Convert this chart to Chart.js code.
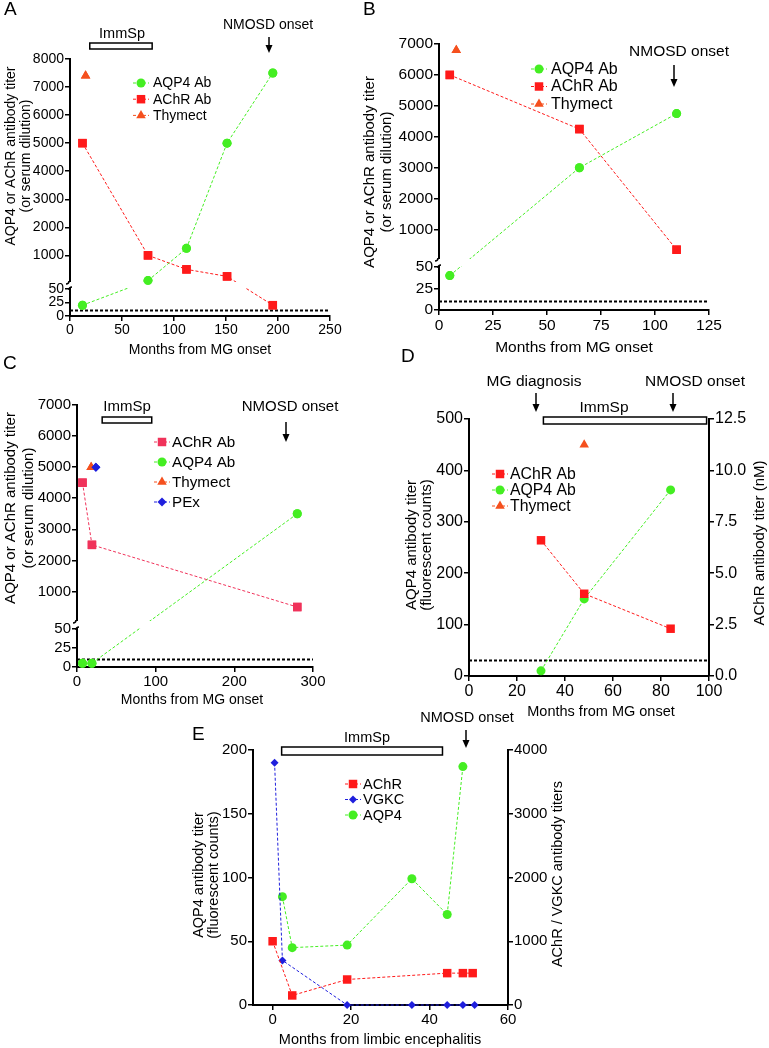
<!DOCTYPE html>
<html>
<head>
<meta charset="utf-8">
<script src="https://cdn.jsdelivr.net/npm/chart.js@4.4.1/dist/chart.umd.min.js"></script>
<style>
  body { margin: 0; width: 769px; height: 1048px; background: #fff; position: relative; overflow: hidden; }
  canvas { position: absolute; }
</style>
</head>
<body>
<canvas id="chartA" width="360" height="362" style="left:0;top:0"></canvas>
<canvas id="chartB" width="414" height="362" style="left:355px;top:0"></canvas>
<canvas id="chartC" width="360" height="368" style="left:0;top:352px"></canvas>
<canvas id="chartD" width="379" height="375" style="left:390px;top:345px"></canvas>
<canvas id="chartE" width="420" height="343" style="left:180px;top:705px"></canvas>
<script>
// ---- panel A ----
const monthsA = [12, 75, 112, 151, 195];
const aqp4A = [20, 100, 1250, 5000, 7500];
const achrA = [5000, 1000, 500, 250, 20];
const thymectMonthA = [15];
const thymectA = [7400];
const immspA = [19, 79];
const nmosdA = 191;
const yTicksA = [0, 25, 50, 1000, 2000, 3000, 4000, 5000, 6000, 7000, 8000];

// ---- panel B ----
const monthsB = [5, 65, 110];
const aqp4B = [40, 3000, 4750];
const achrB = [6000, 4250, 350];
const thymectMonthB = [8];
const thymectB = [6800];
const nmosdB = 109;
const yTicksB = [0, 25, 50, 1000, 2000, 3000, 4000, 5000, 6000, 7000];

// ---- panel C ----
const monthsC = [7, 19, 280];
const achrC = [4500, 2500, 500];
const aqp4C = [5, 5, 3500];
const thymectMonthC = [18];
const thymectC = [5000];
const pexMonthC = [24];
const pexC = [5000];
const immspC = [32, 95];
const nmosdC = 266;
const yTicksC = [0, 25, 50, 1000, 2000, 3000, 4000, 5000, 6000, 7000];

// ---- panel D ----
const monthsD = [30, 48, 84];
const achrD = [6.6, 4.0, 2.3];
const aqp4D = [10, 150, 362];
const thymectMonthD = [48];
const thymectD = [450];
const immspD = [31, 99];
const mgDiagD = 28;
const nmosdD = 85;

// ---- panel E ----
const achrMonthsE = [0, 5, 19, 44.5, 48.5, 51];
const achrE = [1000, 150, 400, 500, 500, 500];
const vgkcMonthsE = [0.5, 2.5, 19, 35.5, 44.5, 48.5, 51.5];
const vgkcE = [3800, 700, 0, 0, 0, 0, 0];
const aqp4MonthsE = [2.5, 5, 19, 35.5, 44.5, 48.5];
const aqp4E = [85, 45, 47, 99, 71, 187];
const immspE = [2.3, 43.3];
const nmosdE = 49.3;
const xTicksE = [0, 20, 40, 60];

const cutoffABC = 10;
const cutoffD = 30;

const FONT = '"Liberation Sans", Arial, sans-serif';
const RED = '#ff1a1a';
const PINK = '#f0325a';
const GREEN = '#44ee22';
const ORANGE = '#f5501e';
const BLUE = '#1f1fdd';

Chart.defaults.font.family = FONT;
Chart.defaults.color = '#000';
Chart.defaults.animation = false;
Chart.defaults.events = [];
Chart.defaults.plugins.legend.display = false;
Chart.defaults.plugins.tooltip.enabled = false;

// broken y axis: lower part 0..lowMax, gap, upper part upMin..upMax
function brokenMap(b) {
  return (v) => v <= b.lowMax
    ? v / b.lowMax * b.lowPx
    : b.lowPx + b.gapPx + (v - b.upMin) / (b.upMax - b.upMin) * b.upPx;
}
const brkA = { lowMax: 50, upMin: 50, upMax: 8000, lowPx: 27, gapPx: 7, upPx: 223 };
const brkB = { lowMax: 50, upMin: 50, upMax: 7000, lowPx: 43, gapPx: 8, upPx: 215 };
const brkC = { lowMax: 50, upMin: 50, upMax: 7000, lowPx: 38, gapPx: 8, upPx: 216 };
const fA = brokenMap(brkA), fB = brokenMap(brkB), fC = brokenMap(brkC);

function series(label, xs, ys, color, style, radius, axis) {
  return {
    label: label,
    data: xs.map((x, i) => ({ x: x, y: ys[i] })),
    showLine: true,
    borderColor: color,
    backgroundColor: color,
    borderWidth: 1,
    borderDash: [3, 2],
    pointStyle: style,
    pointRadius: radius,
    pointBorderWidth: 0,
    pointBackgroundColor: color,
    clip: false,
    yAxisID: axis || 'y'
  };
}

function cutoffLine(x0, x1, y) {
  return {
    label: '',
    data: [{ x: x0, y: y }, { x: x1, y: y }],
    showLine: true,
    borderColor: '#000',
    borderWidth: 2,
    borderDash: [3, 2],
    pointRadius: 0,
    clip: false
  };
}

function axis(size, extra) {
  const ax = {
    type: 'linear',
    border: { display: true, color: '#000', width: 2 },
    grid: { display: true, drawOnChartArea: false, drawTicks: true, color: '#000', lineWidth: 1.5, tickLength: 5 },
    ticks: { color: '#000', font: { size: size }, padding: 1, autoSkip: false, maxRotation: 0, minRotation: 0,
             callback: (v) => String(v) }
  };
  for (const k in extra) {
    if (k === 'ticks') Object.assign(ax.ticks, extra.ticks);
    else ax[k] = extra[k];
  }
  return ax;
}

function brokenY(size, b, f, tickVals, width) {
  return axis(size, {
    position: 'left',
    min: 0,
    max: b.lowPx + b.gapPx + b.upPx,
    afterBuildTicks: (s) => { s.ticks = tickVals.map((v) => ({ value: f(v) })); },
    ticks: { callback: (v, i) => String(tickVals[i]) },
    afterFit: (s) => { s.width = width; }
  });
}

// page-coordinate decorations for each canvas
const DECOR = {
  chartA: {
    ox: 0, oy: 0,
    gap: [brkA.lowPx, brkA.lowPx + brkA.gapPx],
    bars: [{ from: immspA[0], to: immspA[1], y: 43, h: 6 }],
    arrows: [{ at: nmosdA, y0: 37, y1: 53 }],
    texts: [
      { t: 'A', x: 4, y: 10, size: 19, align: 'left' },
      { t: 'ImmSp', x: 122, y: 34, size: 14.5 },
      { t: 'NMOSD onset', x: 268, y: 25, size: 14 },
      { t: 'Months from MG onset', x: 200, y: 350, size: 14 },
      { t: 'AQP4 or AChR antibody titer', x: 11, y: 156, size: 14, rot: true },
      { t: '(or serum dilution)', x: 26.5, y: 156, size: 14, rot: true }
    ],
    legend: { x: 141, tx: 153, y0: 83, dy: 16.2, size: 14, items: [0, 1, 2] }
  },
  chartB: {
    ox: 355, oy: 0,
    gap: [brkB.lowPx, brkB.lowPx + brkB.gapPx],
    bars: [],
    arrows: [{ at: nmosdB, y0: 65, y1: 87 }],
    texts: [
      { t: 'B', x: 363, y: 10, size: 19, align: 'left' },
      { t: 'NMOSD onset', x: 679, y: 52, size: 15.5 },
      { t: 'Months from MG onset', x: 574, y: 348, size: 15.5 },
      { t: 'AQP4 or AChR antibody titer', x: 370, y: 172, size: 15, rot: true },
      { t: '(or serum dilution)', x: 387, y: 172, size: 15, rot: true }
    ],
    legend: { x: 539, tx: 551, y0: 69, dy: 17.5, size: 16, items: [0, 1, 2] }
  },
  chartC: {
    ox: 0, oy: 352,
    gap: [brkC.lowPx, brkC.lowPx + brkC.gapPx],
    bars: [{ from: immspC[0], to: immspC[1], y: 417, h: 6 }],
    arrows: [{ at: nmosdC, y0: 422, y1: 442 }],
    texts: [
      { t: 'C', x: 3, y: 364, size: 19, align: 'left' },
      { t: 'ImmSp', x: 127, y: 407, size: 15 },
      { t: 'NMOSD onset', x: 290, y: 407, size: 15 },
      { t: 'Months from MG onset', x: 192, y: 700, size: 14 },
      { t: 'AQP4 or AChR antibody titer', x: 11, y: 508, size: 15, rot: true },
      { t: '(or serum dilution)', x: 28.5, y: 508, size: 15, rot: true }
    ],
    legend: { x: 162, tx: 172, y0: 442, dy: 20, size: 15.2, items: [0, 1, 2, 3] }
  },
  chartD: {
    ox: 390, oy: 345,
    bars: [{ from: immspD[0], to: immspD[1], y: 417, h: 7 }],
    arrows: [{ at: mgDiagD, y0: 393, y1: 412 }, { at: nmosdD, y0: 393, y1: 412 }],
    texts: [
      { t: 'D', x: 401, y: 357, size: 19, align: 'left' },
      { t: 'MG diagnosis', x: 534, y: 382, size: 15.5 },
      { t: 'NMOSD onset', x: 695, y: 382, size: 15.5 },
      { t: 'ImmSp', x: 604, y: 408, size: 15.5 },
      { t: 'Months from MG onset', x: 601, y: 712, size: 14.5 },
      { t: 'AQP4 antibody titer', x: 412, y: 545, size: 15, rot: true },
      { t: '(fluorescent counts)', x: 427, y: 545, size: 15, rot: true },
      { t: 'AChR antibody titer (nM)', x: 760, y: 543, size: 15, rot: true }
    ],
    legend: { x: 500, tx: 510, y0: 474, dy: 16, size: 15.8, items: [0, 1, 2] }
  },
  chartE: {
    ox: 180, oy: 705,
    bars: [{ from: immspE[0], to: immspE[1], y: 747, h: 8 }],
    arrows: [{ at: nmosdE, y0: 730, y1: 748 }],
    texts: [
      { t: 'E', x: 192, y: 735, size: 19, align: 'left' },
      { t: 'NMOSD onset', x: 467, y: 718, size: 14.5 },
      { t: 'ImmSp', x: 367, y: 738, size: 14.5 },
      { t: 'Months from limbic encephalitis', x: 380, y: 1040, size: 14.5 },
      { t: 'AQP4 antibody titer', x: 199, y: 875, size: 14.5, rot: true },
      { t: '(fluorescent counts)', x: 214, y: 875, size: 14.5, rot: true },
      { t: 'AChR / VGKC antibody titers', x: 558, y: 874, size: 14.5, rot: true }
    ],
    legend: { x: 353, tx: 363, y0: 784, dy: 15.5, size: 14.6, items: [0, 1, 2] }
  }
};

function marker(ctx, style, r, x, y) {
  if (Chart.helpers && Chart.helpers.drawPoint) {
    Chart.helpers.drawPoint(ctx, { pointStyle: style, radius: r, rotation: 0, borderWidth: 0 }, x, y);
    return;
  }
  ctx.beginPath();
  ctx.arc(x, y, r, 0, Math.PI * 2);
  ctx.fill();
}

const decor = {
  id: 'decor',
  afterDatasetsDraw(chart) {
    const d = DECOR[chart.canvas.id];
    if (!d.gap) return;
    const { ctx, chartArea: ca } = chart;
    const ys = chart.scales.y;
    const lo = ys.getPixelForValue(d.gap[0]);
    const hi = ys.getPixelForValue(d.gap[1]);
    ctx.save();
    ctx.fillStyle = '#fff';
    ctx.fillRect(ca.left - 3, hi, ca.right - ca.left + 5, lo - hi - 1);
    // little hooks at the axis break
    ctx.strokeStyle = '#000';
    ctx.lineWidth = 1.5;
    ctx.beginPath();
    ctx.moveTo(ca.left - 1, hi - 1);
    ctx.quadraticCurveTo(ca.left - 1, hi + 2, ca.left - 4, hi + 2);
    ctx.moveTo(ca.left - 1, lo + 1);
    ctx.quadraticCurveTo(ca.left - 1, lo - 2, ca.left + 2, lo - 2);
    ctx.stroke();
    ctx.restore();
    // put the markers back on top of the gap
    chart.getSortedVisibleDatasetMetas().forEach((m) => m.data.forEach((p) => p.draw(ctx, ca)));
  },
  afterDraw(chart) {
    const d = DECOR[chart.canvas.id];
    const ctx = chart.ctx;
    const xs = chart.scales.x;
    const px = (v) => xs.getPixelForValue(v) + d.ox;
    ctx.save();
    ctx.translate(-d.ox, -d.oy);

    d.bars.forEach((b) => {
      const x0 = px(b.from), x1 = px(b.to);
      ctx.fillStyle = '#fff';
      ctx.fillRect(x0, b.y, x1 - x0, b.h);
      ctx.strokeStyle = '#000';
      ctx.lineWidth = 1.5;
      ctx.strokeRect(x0, b.y, x1 - x0, b.h);
    });

    d.arrows.forEach((a) => {
      const x = Math.round(px(a.at));
      ctx.strokeStyle = '#000';
      ctx.lineWidth = 1.5;
      ctx.beginPath();
      ctx.moveTo(x, a.y0);
      ctx.lineTo(x, a.y1 - 6);
      ctx.stroke();
      ctx.fillStyle = '#000';
      ctx.beginPath();
      ctx.moveTo(x - 3.5, a.y1 - 8);
      ctx.lineTo(x + 3.5, a.y1 - 8);
      ctx.lineTo(x, a.y1);
      ctx.closePath();
      ctx.fill();
    });

    d.texts.forEach((t) => {
      ctx.font = t.size + 'px ' + FONT;
      ctx.fillStyle = '#000';
      ctx.textAlign = t.align || 'center';
      ctx.textBaseline = 'middle';
      if (t.rot) {
        ctx.save();
        ctx.translate(t.x, t.y);
        ctx.rotate(-Math.PI / 2);
        ctx.fillText(t.t, 0, 0);
        ctx.restore();
      } else {
        ctx.fillText(t.t, t.x, t.y);
      }
    });

    const L = d.legend;
    L.items.forEach((idx, k) => {
      const ds = chart.data.datasets[idx];
      const y = L.y0 + k * L.dy;
      ctx.save();
      ctx.strokeStyle = ds.borderColor;
      ctx.lineWidth = 1;
      ctx.setLineDash(ds.borderDash);
      ctx.beginPath();
      ctx.moveTo(L.x - 8, y);
      ctx.lineTo(L.x + 8, y);
      ctx.stroke();
      ctx.setLineDash([]);
      ctx.fillStyle = ds.backgroundColor;
      marker(ctx, ds.pointStyle, ds.pointRadius, L.x, y);
      ctx.restore();
      ctx.font = L.size + 'px ' + FONT;
      ctx.fillStyle = '#000';
      ctx.textAlign = 'left';
      ctx.textBaseline = 'middle';
      ctx.fillText(ds.label, L.tx, y + 0.5);
    });
    ctx.restore();
  }
};

function layout(top, right) {
  return { autoPadding: false, padding: { top: top, right: right, left: 0, bottom: 0 } };
}

// A
new Chart(document.getElementById('chartA'), {
  type: 'scatter',
  data: {
    datasets: [
      series('AQP4 Ab', monthsA, aqp4A.map(fA), GREEN, 'circle', 4.5),
      series('AChR Ab', monthsA, achrA.map(fA), RED, 'rect', 6),
      series('Thymect', thymectMonthA, thymectA.map(fA), ORANGE, 'triangle', 5.5),
      cutoffLine(0, 250, fA(cutoffABC))
    ]
  },
  options: {
    responsive: false,
    layout: layout(59, 30),
    scales: {
      x: axis(14, { position: 'bottom', min: 0, max: 250, ticks: { stepSize: 50 }, afterFit: (s) => { s.height = 46; } }),
      y: brokenY(14, brkA, fA, yTicksA, 70)
    }
  },
  plugins: [decor]
});

// B
new Chart(document.getElementById('chartB'), {
  type: 'scatter',
  data: {
    datasets: [
      series('AQP4 Ab', monthsB, aqp4B.map(fB), GREEN, 'circle', 4.5),
      series('AChR Ab', monthsB, achrB.map(fB), RED, 'rect', 6),
      series('Thymect', thymectMonthB, thymectB.map(fB), ORANGE, 'triangle', 5.5),
      cutoffLine(0, 125, fB(cutoffABC))
    ]
  },
  options: {
    responsive: false,
    layout: layout(44, 60),
    scales: {
      x: axis(15.5, { position: 'bottom', min: 0, max: 125, ticks: { stepSize: 25 }, afterFit: (s) => { s.height = 52; } }),
      y: brokenY(15.5, brkB, fB, yTicksB, 84)
    }
  },
  plugins: [decor]
});

// C
new Chart(document.getElementById('chartC'), {
  type: 'scatter',
  data: {
    datasets: [
      series('AChR Ab', monthsC, achrC.map(fC), PINK, 'rect', 6),
      series('AQP4 Ab', monthsC, aqp4C.map(fC), GREEN, 'circle', 4.5),
      series('Thymect', thymectMonthC, thymectC.map(fC), ORANGE, 'triangle', 5.5),
      series('PEx', pexMonthC, pexC.map(fC), BLUE, 'rectRot', 4.5),
      cutoffLine(0, 300, fC(cutoffABC))
    ]
  },
  options: {
    responsive: false,
    layout: layout(53, 47),
    scales: {
      x: axis(15, { position: 'bottom', min: 0, max: 300, ticks: { stepSize: 100 }, afterFit: (s) => { s.height = 53; } }),
      y: brokenY(15, brkC, fC, yTicksC, 77)
    }
  },
  plugins: [decor]
});

// D
new Chart(document.getElementById('chartD'), {
  type: 'scatter',
  data: {
    datasets: [
      series('AChR Ab', monthsD, achrD, RED, 'rect', 6, 'y1'),
      series('AQP4 Ab', monthsD, aqp4D, GREEN, 'circle', 4.5),
      series('Thymect', thymectMonthD, thymectD, ORANGE, 'triangle', 5.5),
      cutoffLine(0, 100, cutoffD)
    ]
  },
  options: {
    responsive: false,
    layout: layout(74, 0),
    scales: {
      x: axis(16, { position: 'bottom', min: 0, max: 100, ticks: { stepSize: 20 }, afterFit: (s) => { s.height = 44; } }),
      y: axis(16, { position: 'left', min: 0, max: 500, ticks: { stepSize: 100 }, afterFit: (s) => { s.width = 79; } }),
      y1: axis(16, { position: 'right', min: 0, max: 12.5, ticks: { stepSize: 2.5, callback: (v) => v.toFixed(1) }, afterFit: (s) => { s.width = 60; } })
    }
  },
  plugins: [decor]
});

// E
new Chart(document.getElementById('chartE'), {
  type: 'scatter',
  data: {
    datasets: [
      series('AChR', achrMonthsE, achrE, RED, 'rect', 6, 'y1'),
      series('VGKC', vgkcMonthsE, vgkcE, BLUE, 'rectRot', 4, 'y1'),
      series('AQP4', aqp4MonthsE, aqp4E, GREEN, 'circle', 4.5)
    ]
  },
  options: {
    responsive: false,
    layout: layout(45, 0),
    scales: {
      x: axis(15, {
        position: 'bottom', min: -5, max: 60,
        afterBuildTicks: (s) => { s.ticks = xTicksE.map((v) => ({ value: v })); },
        afterFit: (s) => { s.height = 43; }
      }),
      y: axis(15, { position: 'left', min: 0, max: 200, ticks: { stepSize: 50 }, afterFit: (s) => { s.width = 73; } }),
      y1: axis(15, { position: 'right', min: 0, max: 4000, ticks: { stepSize: 1000 }, afterFit: (s) => { s.width = 92; } })
    }
  },
  plugins: [decor]
});
</script>
</body>
</html>
